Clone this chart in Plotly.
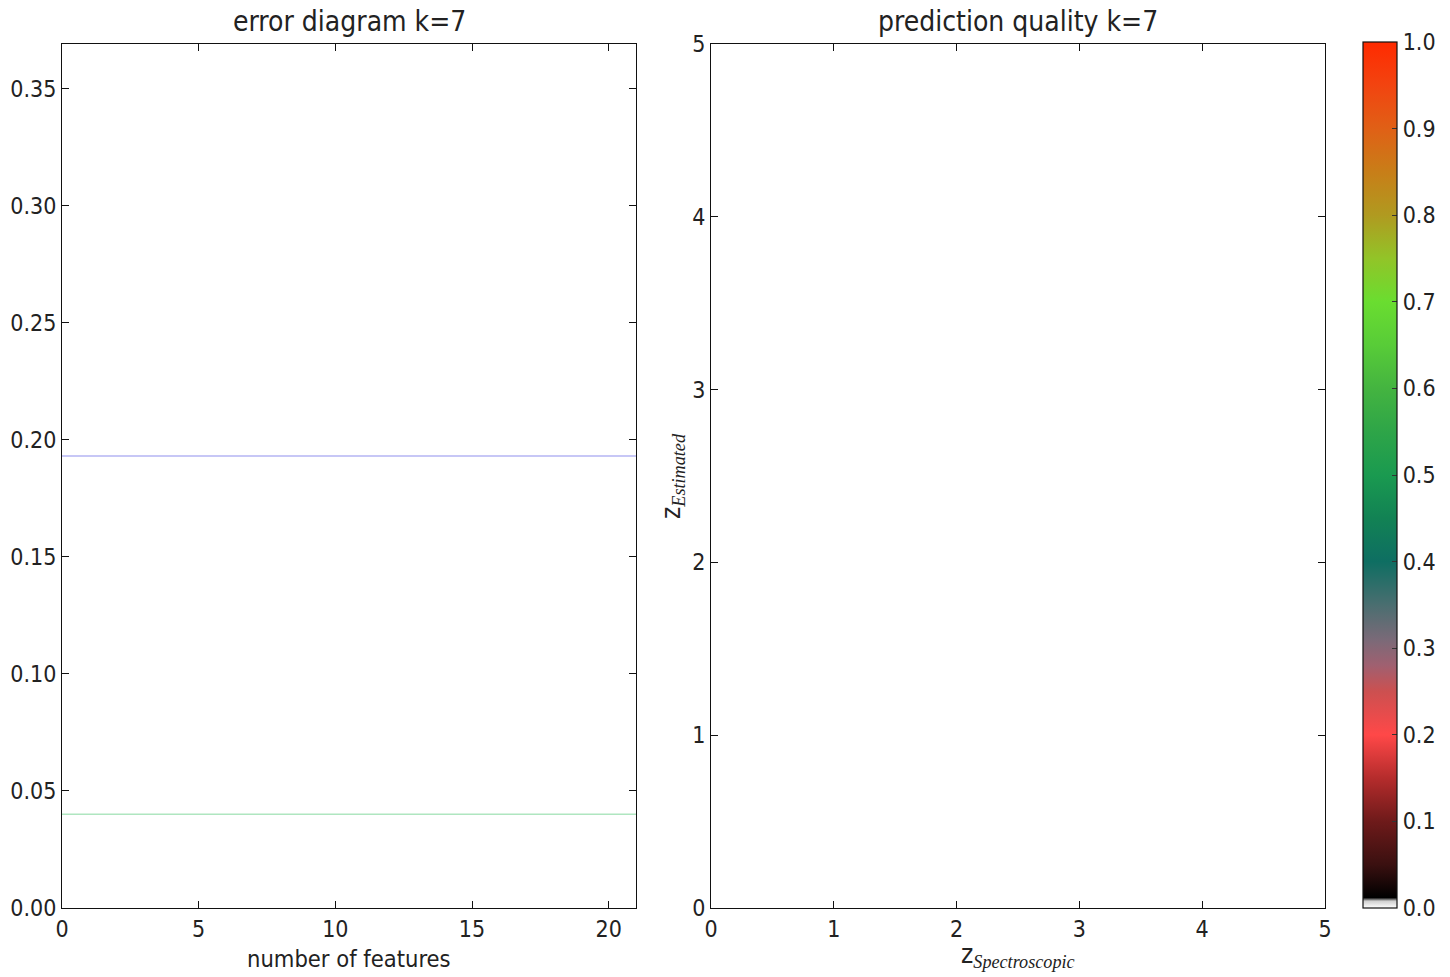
import plotly.graph_objects as go

# Error curves versus number of features (k=7)
features = [0, 21]
error_blue = [0.193, 0.193]
error_green = [0.040, 0.040]

err_ticks = [0.00, 0.05, 0.10, 0.15, 0.20, 0.25, 0.30, 0.35]
feat_ticks = [0, 5, 10, 15, 20]
z_ticks = [0, 1, 2, 3, 4, 5]
cbar_ticks = [0.0, 0.1, 0.2, 0.3, 0.4, 0.5, 0.6, 0.7, 0.8, 0.9, 1.0]

# Colour scale of the prediction-quality map
cscale = [
    [0.000, "#ffffff"],
    [0.008, "#d0d0d0"],
    [0.012, "#000000"],
    [0.050, "#3a1010"],
    [0.100, "#6e1a1a"],
    [0.150, "#b52c2c"],
    [0.200, "#ff4848"],
    [0.250, "#cc5050"],
    [0.280, "#a06070"],
    [0.310, "#7a6a78"],
    [0.350, "#4a6e70"],
    [0.400, "#0e6e62"],
    [0.450, "#128254"],
    [0.500, "#1a9a50"],
    [0.550, "#2ea548"],
    [0.600, "#44b440"],
    [0.650, "#58cc38"],
    [0.700, "#6add30"],
    [0.750, "#92c428"],
    [0.800, "#b09a20"],
    [0.850, "#c87e18"],
    [0.900, "#e06016"],
    [0.950, "#f24410"],
    [1.000, "#ff2a00"],
]

FONT = "DejaVu Sans Condensed, Liberation Sans Narrow, DejaVu Sans, sans-serif"
SERIF = "Liberation Serif, DejaVu Serif, serif"
TXT = "#222222"
W, H = 1450, 977

fig = go.Figure()

fig.add_trace(go.Scatter(x=features, y=error_blue, mode="lines",
                         line=dict(color="rgba(120,120,235,0.55)", width=1.5),
                         xaxis="x", yaxis="y", showlegend=False))
fig.add_trace(go.Scatter(x=features, y=error_green, mode="lines",
                         line=dict(color="rgba(110,210,140,0.55)", width=1.5),
                         xaxis="x", yaxis="y", showlegend=False))

# Empty quality panel carrying the colour bar
fig.add_trace(go.Scatter(
    x=[None], y=[None], mode="markers", xaxis="x2", yaxis="y2", showlegend=False,
    marker=dict(color=[0, 1], cmin=0, cmax=1, colorscale=cscale, showscale=True,
                colorbar=dict(
                    x=1363 / W, xanchor="left", y=1 - 908 / H, yanchor="bottom",
                    len=(908 - 42) / H, lenmode="fraction",
                    thickness=34, thicknessmode="pixels",
                    xpad=0, ypad=0, outlinewidth=1.2, outlinecolor="#111111",
                    tickvals=cbar_ticks, ticktext=[f"{v:.1f}" for v in cbar_ticks],
                    ticks="inside", ticklen=5, tickcolor="#333333",
                    tickfont=dict(family=FONT, size=23, color=TXT),
                ))))

axis_common = dict(showgrid=False, zeroline=False, showline=True, linecolor="#111111",
                   linewidth=1.2, mirror="allticks", ticks="inside", ticklen=7,
                   tickcolor="#111111", automargin=False,
                   tickfont=dict(family=FONT, size=23, color=TXT))

fig.update_layout(
    width=W, height=H,
    margin=dict(l=0, r=0, t=0, b=0, autoexpand=False),
    paper_bgcolor="white", plot_bgcolor="white",
    xaxis=dict(axis_common, domain=[62 / W, 636 / W], range=[0, 21],
               tickvals=feat_ticks, anchor="y"),
    yaxis=dict(axis_common, domain=[1 - 908 / H, 1 - 44 / H], range=[0, 0.369],
               tickvals=err_ticks, ticktext=[f"{v:.2f}" for v in err_ticks], anchor="x"),
    xaxis2=dict(axis_common, domain=[711 / W, 1325 / W], range=[0, 5],
                tickvals=z_ticks, anchor="y2"),
    yaxis2=dict(axis_common, domain=[1 - 908 / H, 1 - 44 / H], range=[0, 5],
                tickvals=z_ticks, anchor="x2"),
)

annotations = [
    dict(text="error diagram k=7", x=(62 + 636) / 2 / W, y=1 - 22 / H,
         font=dict(family=FONT, size=28, color=TXT)),
    dict(text="prediction quality k=7", x=(711 + 1325) / 2 / W, y=1 - 22 / H,
         font=dict(family=FONT, size=28, color=TXT)),
    dict(text="number of features", x=(62 + 636) / 2 / W, y=1 - 959 / H,
         font=dict(family=FONT, size=23.5, color=TXT)),
    dict(text=f"z<sub><span style='font-family:{SERIF}'><i>Spectroscopic</i></span></sub>",
         x=(711 + 1325) / 2 / W, y=1 - 955 / H,
         font=dict(family=FONT, size=26, color=TXT)),
    dict(text=f"z<sub><span style='font-family:{SERIF}'><i>Estimated</i></span></sub>",
         x=672 / W, y=1 - 476 / H, textangle=-90,
         font=dict(family=FONT, size=26, color=TXT)),
]
for a in annotations:
    a.update(xref="paper", yref="paper", showarrow=False,
             xanchor="center", yanchor="middle")
fig.update_layout(annotations=annotations)

fig.write_html("out.html")
